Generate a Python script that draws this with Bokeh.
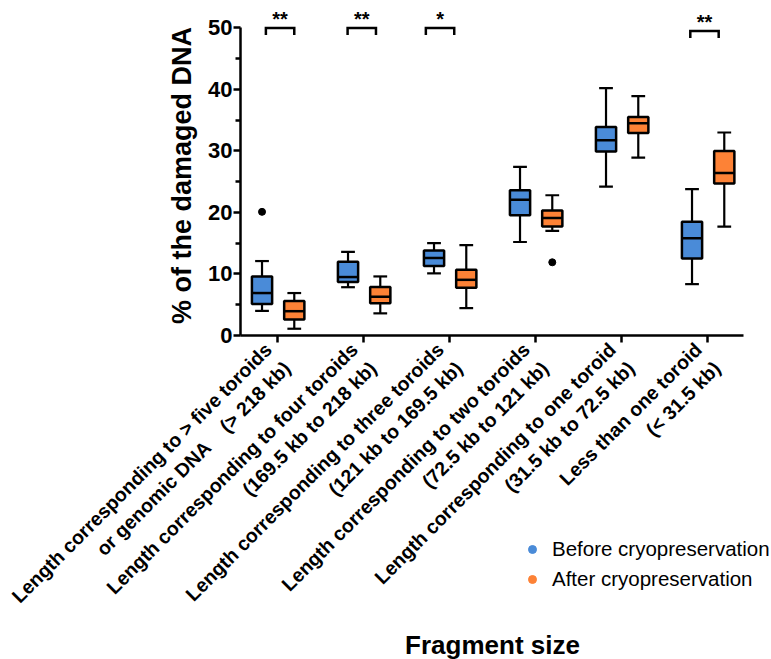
import math
from bokeh.plotting import figure
from bokeh.models import Range1d, FixedTicker, Legend, LegendItem, ColumnDataSource
from bokeh.core.properties import value
from bokeh.embed import file_html
from bokeh.resources import INLINE

# ---------------- data ----------------
categories = [
    "Length corresponding to > five toroids\nor genomic DNA\u00a0\u00a0\u00a0\u00a0(> 218 kb)",
    "Length corresponding to four toroids\n(169.5 kb to 218 kb)",
    "Length corresponding to three toroids\n(121 kb to 169.5 kb)",
    "Length corresponding to two toroids\n(72.5 kb to 121 kb)",
    "Length corresponding to one toroid\n(31.5 kb to 72.5 kb)",
    "Less than one toroid\n(< 31.5 kb)",
]
series_names = ["Before cryopreservation", "After cryopreservation"]
y_title = "% of the damaged DNA"
x_title = "Fragment size"

before_min = [4.0, 7.85, 10.1, 15.2, 24.2, 8.35]
before_q1 = [5.1, 8.7, 11.3, 19.55, 29.9, 12.5]
before_med = [6.9, 9.5, 12.6, 22.05, 31.75, 15.8]
before_q3 = [9.6, 12.0, 13.8, 23.6, 33.9, 18.5]
before_max = [12.1, 13.6, 15.0, 27.4, 40.2, 23.8]

after_min = [1.1, 3.6, 4.45, 17.0, 28.9, 17.7]
after_q1 = [2.6, 5.25, 7.75, 17.7, 32.9, 24.7]
after_med = [3.95, 6.3, 9.05, 19.1, 34.5, 26.4]
after_q3 = [5.6, 7.9, 10.7, 20.3, 35.5, 30.0]
after_max = [6.9, 9.6, 14.7, 22.8, 38.9, 33.0]

before_outlier_group = [0]
before_outlier_value = [20.1]
after_outlier_group = [3]
after_outlier_value = [11.9]

sig_group = [0, 1, 2, 5]
sig_text = ["**", "**", "*", "**"]
sig_level = [50.0, 50.0, 50.0, 49.5]
sig_shift = [0.03, -0.02, -0.11, -0.035]

y_ticks = [0, 10, 20, 30, 40, 50]
y_minor = [5, 15, 25, 35, 45]

# ---------------- styles / geometry ----------------
BLUE = "#4a8bd8"
ORANGE = "#fd8236"
FONT = "Liberation Sans"
BOX_W = 0.235
CAP_W = 0.16
OFFS = {"before": -0.18, "after": 0.195}

W, H = 771, 659
PX_X = 86.0      # pixels per category
PX_Y = 6.152     # pixels per % unit
X0_PX = 277.0    # screen x of first category
Y0_PX = 335.0    # screen y of value 0
X_LO = -0.43     # left end of x axis (categories)
X_HI = 5.42      # right end of x axis

x_start = -X0_PX / PX_X
y_end = Y0_PX / PX_Y

p = figure(width=W, height=H, output_backend="svg", toolbar_location=None,
           x_range=Range1d(x_start, x_start + W / PX_X),
           y_range=Range1d(y_end - H / PX_Y, y_end),
           min_border_left=0, min_border_right=0, min_border_top=0,
           min_border_bottom=0)
p.outline_line_color = None
p.grid.visible = False
p.background_fill_color = "white"
p.border_fill_color = "white"


def draw_series(mins, q1, med, q3, maxs, off, color):
    xs = [i + off for i in range(len(mins))]
    src = ColumnDataSource(dict(x=xs, lo=mins, q1=q1, med=med, q3=q3, hi=maxs,
                                cl=[x - CAP_W / 2 for x in xs],
                                cr=[x + CAP_W / 2 for x in xs],
                                bl=[x - BOX_W / 2 for x in xs],
                                br=[x + BOX_W / 2 for x in xs]))
    p.segment(x0="x", y0="q3", x1="x", y1="hi", source=src, line_color="black", line_width=2.2)
    p.segment(x0="x", y0="q1", x1="x", y1="lo", source=src, line_color="black", line_width=2.2)
    p.segment(x0="cl", y0="hi", x1="cr", y1="hi", source=src, line_color="black", line_width=2.2)
    p.segment(x0="cl", y0="lo", x1="cr", y1="lo", source=src, line_color="black", line_width=2.2)
    p.vbar(x="x", width=BOX_W, bottom="q1", top="q3", source=src,
           fill_color=color, line_color="black", line_width=2.5)
    p.segment(x0="bl", y0="med", x1="br", y1="med", source=src, line_color="black", line_width=2.5)


draw_series(before_min, before_q1, before_med, before_q3, before_max, OFFS["before"], BLUE)
draw_series(after_min, after_q1, after_med, after_q3, after_max, OFFS["after"], ORANGE)

p.scatter([g + OFFS["before"] for g in before_outlier_group], before_outlier_value,
          size=7, color="black")
p.scatter([g + OFFS["after"] for g in after_outlier_group], after_outlier_value,
          size=7, color="black")

# significance brackets
bx, by = [], []
for g, lvl, sh in zip(sig_group, sig_level, sig_shift):
    c = g + sh
    bx.append([c - 0.165, c - 0.165, c + 0.165, c + 0.165])
    by.append([lvl - 1.15, lvl, lvl, lvl - 1.15])
p.multi_line(bx, by, line_color="black", line_width=2.5, line_join="miter")
p.text(x=[g + sh for g, sh in zip(sig_group, sig_shift)], y=[l + 1.5 for l in sig_level],
       text=sig_text, text_align="center", text_baseline="middle",
       text_font=value(FONT), text_font_style="bold", text_font_size="20px", text_color="black")

# axis titles (real text, placed relative to the axes)
p.text(x=[X_LO - 59 / PX_X], y=[26.0], text=[y_title], angle=math.pi / 2,
       text_align="center", text_baseline="middle",
       text_font=value(FONT), text_font_style="bold", text_font_size="27px", text_color="black")
p.text(x=[(len(categories) - 1) / 2], y=[-50.3], text=[x_title],
       text_align="center", text_baseline="middle",
       text_font=value(FONT), text_font_style="bold", text_font_size="26px", text_color="black")

# legend with dot markers
nan = float("nan")
r_b = p.scatter(x=[nan], y=[nan], size=8, color=BLUE)
r_a = p.scatter(x=[nan], y=[nan], size=8, color=ORANGE)
legend = Legend(items=[LegendItem(label=series_names[0], renderers=[r_b]),
                       LegendItem(label=series_names[1], renderers=[r_a])],
                location=(522, 65), padding=0, margin=0, spacing=0,
                glyph_width=20, glyph_height=30, label_standoff=10,
                label_text_font=FONT, label_text_font_size="20.5px", label_text_color="black",
                border_line_color=None, background_fill_alpha=0)
p.add_layout(legend, "center")

# y axis pinned at the left end of the category axis
ya = p.yaxis[0]
ya.fixed_location = X_LO
ya.bounds = (0, 50)
ya.ticker = FixedTicker(ticks=y_ticks, minor_ticks=y_minor)
ya.major_label_text_font = FONT
ya.major_label_text_font_style = "bold"
ya.major_label_text_font_size = "22px"
ya.major_label_text_color = "black"
ya.major_label_standoff = 1
ya.axis_line_width = 2.5
ya.major_tick_line_width = 2.5
ya.minor_tick_line_width = 2.5
ya.major_tick_in = 0
ya.major_tick_out = 7
ya.minor_tick_in = 0
ya.minor_tick_out = 5

# x axis pinned at y = 0
xa = p.xaxis[0]
xa.fixed_location = 0
xa.bounds = (X_LO, X_HI)
xa.ticker = FixedTicker(ticks=list(range(len(categories))), minor_ticks=[])
xa.major_label_overrides = {i: c for i, c in enumerate(categories)}
xa.major_label_orientation = math.pi / 4
xa.major_label_text_font = FONT
xa.major_label_text_font_style = "bold"
xa.major_label_text_font_size = "19.5px"
xa.major_label_text_color = "black"
xa.major_label_standoff = 13
xa.axis_line_width = 2.5
xa.major_tick_line_width = 2.5
xa.major_tick_in = 0
xa.major_tick_out = 7
xa.minor_tick_line_color = None

open("out.html", "w").write(file_html(p, INLINE))
